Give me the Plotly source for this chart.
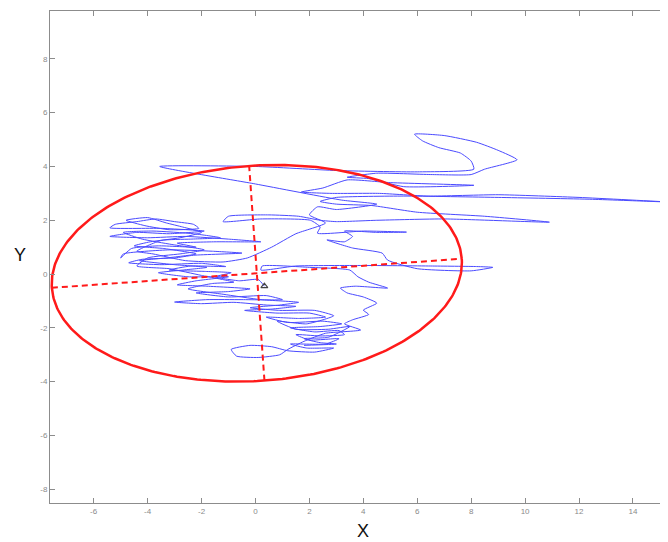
import numpy as np
import plotly.graph_objects as go

# ---- COP trajectory (data units) ----
X_COP = [0.33,0.1,-0.6,-1.5,-0.9,-1.9,-3.2,-2.4,-1.1,-2.0,-3.5,-4.7,-4.2,-3.0,-2.3,-0.5,-1.6,-3.2,-4.9,-5.0,-4.6,-3.6,-2.2,-2.9,-1.5,0.2,-1.0,-2.6,-4.0,-5.4,-4.4,-3.2,-1.9,-3.5,-5.4,-5.2,-4.4,-3.7,-3.0,-2.3,-2.1,-3.2,-4.1,-4.8,-4.0,-3.3,-2.7,-2.0,-2.8,-3.9,-4.5,-3.4,-2.2,-3.3,-4.3,-3.0,-1.8,-2.7,-3.6,-2.5,-1.0,-2.2,-2.9,-1.8,-0.2,-1.0,-2.2,-1.0,0.4,1.0,-0.5,-1.8,-3.0,-2.0,-0.8,0.4,1.5,0.6,-0.4,0.8,2.0,2.6,1.6,0.4,1.2,2.5,3.2,2.4,1.3,2.2,3.1,3.3,2.4,1.5,2.0,3.1,2.6,1.3,1.9,2.9,2.2,1.2,0.6,-0.2,-0.9,-0.7,0.1,0.9,1.2,
         1.8,2.6,3.9,3.3,3.6,4.2,4.0,4.5,4.0,3.4,3.15,3.7,4.9,4.2,3.8,3.5,2.0,0.25,0.2,1.5,4.0,6.5,8.2,8.8,8.0,6.0,4.9,4.7,3.6,2.65,3.3,3.6,3.3,4.5,5.6,4.0,2.3,2.4,2.04,
         0.2,-1.2,-1.0,0.5,1.6,2.4,3.0,4.5,7.0,10.9,8.5,6.0,4.3,3.0,2.4,3.0,5.5,9.0,12.5,15.3,12.0,9.0,6.4,4.6,2.8,1.7,2.5,3.4,5.0,8.1,5.5,4.2,3.4,4.5,6.5,8.0,8.5,9.7,9.0,8.2,7.0,5.9,6.2,6.8,7.6,8.0,8.1,6.0,3.0,0.0,-3.55,0.0,3.2,4.5,3.0,2.3,2.0,2.6,
         1.5,0.6,-0.3,-1.2,-2.6,-3.8,-4.4,-3.5,-2.4,-1.3,-2.3,-3.8,-4.9,-4.2,-3.1,-1.9,-2.8,-4.0,-4.4,-3.2,-2.0,-0.8,-1.6,-2.5,-1.2,0.2,1.6,0.9,-0.2,0.9,2.2,2.9,1.9,0.8,1.5,2.7,3.5,2.7,1.8,2.4,3.0,1.8]
Y_COP = [-0.45,-0.2,-0.25,-0.1,0.05,0.1,0.15,0.3,0.28,0.4,0.35,0.42,0.55,0.6,0.7,0.78,0.85,0.9,0.75,0.6,0.95,1.05,1.0,1.15,1.2,1.2,1.3,1.4,1.35,1.4,1.55,1.5,1.6,1.7,1.72,1.85,1.95,2.05,1.95,1.85,1.7,1.65,1.8,2.0,2.1,1.9,1.75,1.55,1.35,1.2,1.05,0.95,0.75,0.6,0.5,0.35,0.25,0.15,0.05,-0.1,-0.1,-0.25,-0.4,-0.45,-0.55,-0.65,-0.7,-0.85,-0.8,-0.95,-0.95,-0.95,-1.04,-1.1,-1.05,-1.15,-1.2,-1.3,-1.35,-1.45,-1.45,-1.6,-1.65,-1.6,-1.8,-1.75,-1.85,-1.95,-2.0,-2.15,-2.1,-2.25,-2.3,-2.25,-2.45,-2.4,-2.6,-2.6,-2.75,-2.75,-2.9,-2.85,-2.7,-2.65,-2.8,-3.05,-3.1,-3.0,-2.8,
         -2.5,-2.2,-2.08,-1.85,-1.7,-1.5,-1.34,-1.08,-0.85,-0.7,-0.52,-0.45,-0.52,-0.3,-0.1,0.15,0.25,0.3,0.15,0.3,0.32,0.3,0.28,0.25,0.12,0.2,0.52,0.78,0.97,1.27,1.2,1.4,1.6,1.55,1.56,1.6,1.52,1.75,2.0,
         2.05,1.95,2.15,2.2,2.15,2.0,1.95,2.0,2.05,1.93,2.15,2.3,2.55,2.6,2.7,2.85,2.9,2.85,2.78,2.68,2.85,2.95,2.9,3.0,3.0,3.05,3.2,3.5,3.4,3.3,3.25,3.55,3.6,3.75,3.7,3.7,3.9,4.25,4.6,4.9,5.15,5.2,4.95,4.7,4.5,4.2,3.9,3.8,3.85,4.0,4.0,3.35,2.75,2.6,2.4,2.5,2.2,1.9,
         1.5,1.0,0.6,0.45,0.5,0.75,0.85,1.25,1.3,1.35,1.5,1.6,1.55,1.3,1.1,0.9,0.75,0.6,0.3,0.2,-0.05,-0.3,-0.35,-0.55,-0.75,-0.95,-1.05,-1.15,-1.25,-1.35,-1.35,-1.55,-1.85,-1.75,-2.05,-2.05,-1.95,-2.35,-2.4,-2.55,-2.6,-2.65]

START_X = [0.33]
START_Y = [-0.45]

# ---- confidence ellipse parameters ----
ELL_CENTER = (0.05, 0.03)
ELL_A = 7.62
ELL_B = 4.0
ELL_ANGLE_DEG = 4.06

X_TICKS = [-6, -4, -2, 0, 2, 4, 6, 8, 10, 12, 14]
Y_TICKS = [-8, -6, -4, -2, 0, 2, 4, 6, 8]
X_RANGE = [-7.62, 15.3]
Y_RANGE = [-8.51, 9.78]

th = np.deg2rad(ELL_ANGLE_DEG)
t = np.linspace(0, 2 * np.pi, 361)
cx, cy = ELL_CENTER
ex = cx + ELL_A * np.cos(t) * np.cos(th) - ELL_B * np.sin(t) * np.sin(th)
ey = cy + ELL_A * np.cos(t) * np.sin(th) + ELL_B * np.sin(t) * np.cos(th)
maj_x = [cx - ELL_A * np.cos(th), cx + ELL_A * np.cos(th)]
maj_y = [cy - ELL_A * np.sin(th), cy + ELL_A * np.sin(th)]
min_x = [cx + ELL_B * np.sin(th), cx - ELL_B * np.sin(th)]
min_y = [cy - ELL_B * np.cos(th), cy + ELL_B * np.cos(th)]

fig = go.Figure()
fig.add_trace(go.Scatter(x=X_COP, y=Y_COP, mode="lines",
                         line=dict(color="#4a4aff", width=1, shape="spline", smoothing=0.5),
                         hoverinfo="skip"))
fig.add_trace(go.Scatter(x=ex, y=ey, mode="lines",
                         line=dict(color="#ff1a1a", width=2.5), hoverinfo="skip"))
fig.add_trace(go.Scatter(x=maj_x, y=maj_y, mode="lines",
                         line=dict(color="#ff1a1a", width=2, dash="6px,4px"), hoverinfo="skip"))
fig.add_trace(go.Scatter(x=min_x, y=min_y, mode="lines",
                         line=dict(color="#ff1a1a", width=2, dash="6px,4px"), hoverinfo="skip"))
fig.add_trace(go.Scatter(x=START_X, y=START_Y, mode="markers",
                         marker=dict(symbol="triangle-up-open", size=6, color="#444",
                                     line=dict(width=1.2, color="#444")),
                         hoverinfo="skip"))

axis_common = dict(showgrid=False, zeroline=False, showline=True, linecolor="#8c8c8c",
                   linewidth=1, mirror="ticks", ticks="inside", ticklen=5, tickcolor="#8c8c8c",
                   tickfont=dict(family="Liberation Sans", size=8, color="#8a8a8a"))
fig.update_xaxes(range=X_RANGE, tickmode="array", tickvals=X_TICKS,
                 ticktext=[str(v) for v in X_TICKS], **axis_common)
fig.update_yaxes(range=Y_RANGE, tickmode="array", tickvals=Y_TICKS,
                 ticktext=[str(v) for v in Y_TICKS], **axis_common)

# page body has an 8px default margin, so the figure is sized/offset to compensate
fig.update_layout(
    width=660, height=534,
    margin=dict(l=41.5, r=0, t=3, b=39),
    paper_bgcolor="white", plot_bgcolor="white",
    showlegend=False,
    annotations=[
        dict(text="X", xref="paper", yref="paper", x=0.507, y=-0.056,
             showarrow=False, borderpad=0,
             font=dict(family="Liberation Sans", size=18, color="#111"),
             xanchor="center", yanchor="middle"),
        dict(text="Y", xref="paper", yref="paper", x=-0.048, y=0.504,
             showarrow=False, borderpad=0,
             font=dict(family="Liberation Sans", size=18, color="#111"),
             xanchor="center", yanchor="middle"),
    ],
)
fig.write_html("out.html")
